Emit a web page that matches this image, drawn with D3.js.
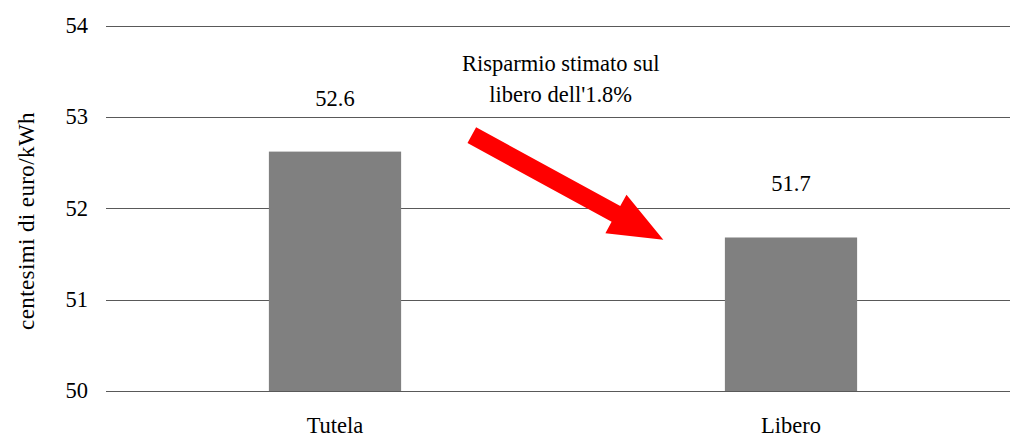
<!DOCTYPE html>
<html><head><meta charset="utf-8">
<script src="https://cdn.jsdelivr.net/npm/d3@7"></script>
<style>html,body{margin:0;padding:0;background:#fff;}svg{display:block;}
text{font-family:"Liberation Serif","Times New Roman",serif;fill:#000;}</style>
</head><body>
<svg id="c" width="1010" height="437"></svg>
<script>
const categories = ["Tutela", "Libero"];
const values = [52.62, 51.68];
const valueLabels = ["52.6", "51.7"];
const yTicks = [50, 51, 52, 53, 54];
const yTitle = "centesimi di euro/kWh";
const annotation = ["Risparmio stimato sul", "libero dell'1.8%"];

const W = 1010, H = 437;
const m = {left: 106, right: -8, top: 25.5, bottom: 46};
const svg = d3.select("#c");
const fs = "22.5px";

const y = d3.scaleLinear().domain([50, 54]).range([H - m.bottom, m.top]);
const x = d3.scalePoint().domain(categories).range([335, 791]);
const step = x(categories[1]) - x(categories[0]);
const bw = step * 0.29;

// gridlines
svg.append("g").selectAll("line").data(yTicks).join("line")
  .attr("x1", m.left).attr("x2", W - m.right)
  .attr("y1", d => Math.round(y(d)) + 0.5).attr("y2", d => Math.round(y(d)) + 0.5)
  .attr("stroke", "#595959").attr("stroke-width", 1.2);

// tick labels
svg.append("g").selectAll("text").data(yTicks).join("text")
  .attr("x", 88).attr("y", d => y(d)).attr("dy", "0.33em")
  .attr("text-anchor", "end").style("font-size", fs)
  .text(d => d);

// bars
svg.append("g").selectAll("rect").data(values).join("rect")
  .attr("x", (d, i) => x(categories[i]) - bw / 2)
  .attr("width", bw)
  .attr("y", d => y(d))
  .attr("height", d => y(50) - y(d))
  .attr("fill", "#808080");

// value labels
svg.append("g").selectAll("text").data(values).join("text")
  .attr("x", (d, i) => x(categories[i]))
  .attr("y", d => y(d) - 46)
  .attr("text-anchor", "middle").style("font-size", fs)
  .text((d, i) => valueLabels[i]);

// category labels
svg.append("g").selectAll("text").data(categories).join("text")
  .attr("x", d => x(d)).attr("y", 433)
  .attr("text-anchor", "middle").style("font-size", fs)
  .text(d => d);

// y title
svg.append("text")
  .attr("transform", `translate(34,221) rotate(-90)`)
  .attr("text-anchor", "middle").style("font-size", "23px").style("letter-spacing", "0.4px")
  .text(yTitle);

// annotation text
svg.append("g").selectAll("text").data(annotation).join("text")
  .attr("x", x(categories[0]) + step * 0.495)
  .attr("y", (d, i) => 71 + i * 30.5)
  .attr("text-anchor", "middle").style("font-size", fs)
  .text(d => d);

// arrow (positioned in data space between the bars)
const x0 = x(categories[0]) + step * 0.3, y0 = y(52.8);
const x1 = x(categories[0]) + step * 0.72, y1 = y(51.654);
const dx = x1 - x0, dy = y1 - y0, L = Math.hypot(dx, dy);
const ux = dx / L, uy = dy / L, nx = -uy, ny = ux;
const sw = 9, hw = 22, hl = 54;
const bx = x1 - ux * hl, by = y1 - uy * hl;
const pts = [
  [x0 + nx * sw, y0 + ny * sw],
  [bx + nx * sw, by + ny * sw],
  [bx + nx * hw, by + ny * hw],
  [x1, y1],
  [bx - nx * hw, by - ny * hw],
  [bx - nx * sw, by - ny * sw],
  [x0 - nx * sw, y0 - ny * sw]
];
svg.append("path").attr("d", d3.line()(pts) + "Z").attr("fill", "#ff0000");
</script>
</body></html>
